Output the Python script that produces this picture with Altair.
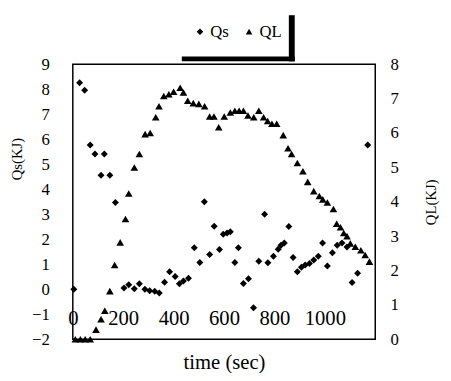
import altair as alt
import pandas as pd

# Qs series (left axis)
qs_time = [4, 27, 47, 69, 88, 112, 125, 147, 169, 203, 222, 244, 264, 286, 305,
           325, 343, 364, 384, 406, 423, 439, 459, 482, 504, 522, 543, 561, 582, 597,
           612, 625, 643, 657, 677, 697, 717, 738, 761, 774, 796, 815, 826, 839, 857,
           874, 891, 907, 922, 939, 956, 974, 991, 1010, 1030, 1049, 1068, 1088, 1108, 1130,
           1170]
qs_val = [0.0, 8.26, 7.96, 5.77, 5.41, 4.56, 5.41, 4.56, 3.47, 0.05, 0.18, 0.02, 0.22, 0.0, -0.06,
          -0.08, -0.15, 0.28, 0.7, 0.51, 0.22, 0.33, 0.44, 1.66, 1.07, 3.5, 1.39, 2.52, 1.59, 2.2,
          2.25, 2.3, 1.07, 1.66, 0.23, 0.42, -0.74, 1.12, 3.0, 1.06, 1.32, 1.6, 1.76, 1.85, 2.51,
          1.27, 0.7, 0.88, 0.97, 1.03, 1.17, 1.32, 1.85, 0.93, 1.46, 1.76, 1.85, 1.69, 0.27, 0.64,
          5.77]

# QL series (right axis)
ql_time = [10, 30, 49, 69, 92, 112, 127, 147, 166, 188, 209, 222, 244, 264, 287,
           307, 329, 342, 361, 381, 400, 426, 439, 456, 478, 500, 523, 543, 560, 579,
           601, 625, 643, 660, 677, 695, 718, 738, 757, 773, 790, 809, 835, 854, 868,
           891, 913, 932, 956, 978, 992, 1010, 1034, 1047, 1062, 1075, 1088, 1101, 1121, 1143,
           1160, 1177]
ql_val = [0, 0, 0, 0, 0.28, 0.58, 0.83, 1.4, 2.16, 2.82, 3.5, 4.24, 5.0, 5.39, 5.97,
          6.0, 6.46, 6.78, 7.08, 7.13, 7.2, 7.32, 7.18, 6.94, 6.87, 6.85, 6.78, 6.48, 6.48, 6.17,
          6.48, 6.6, 6.65, 6.65, 6.65, 6.51, 6.46, 6.65, 6.46, 6.35, 6.27, 6.27, 5.94, 5.56, 5.39,
          5.13, 4.89, 4.58, 4.31, 4.17, 4.07, 3.98, 3.79, 3.36, 3.26, 3.09, 3.0, 2.79, 2.69, 2.59,
          2.45, 2.26]

series_names = ["Qs", "QL"]
x_ticks = [0, 200, 400, 600, 800, 1000]
qs_ticks = list(range(-2, 10))
ql_ticks = list(range(0, 9))

FONT = "Liberation Serif"

qs_df = pd.DataFrame({"time": qs_time, "value": qs_val, "series": series_names[0]})
ql_df = pd.DataFrame({"time": ql_time, "value": ql_val, "series": series_names[1]})

shape_scale = alt.Scale(domain=series_names, range=["diamond", "triangle-up"])
legend = alt.Legend(
    title=None, orient="none", direction="horizontal", legendX=111, legendY=-52,
    padding=10,
    labelFont=FONT, labelFontSize=17, labelColor="black", labelOffset=2,
    columnPadding=12, symbolSize=45, symbolFillColor="black", symbolStrokeColor="black",
)

x_enc = alt.X(
    "time:Q",
    scale=alt.Scale(domain=[0, 1200], nice=False),
    axis=alt.Axis(
        values=x_ticks, format="d", title="time (sec)", domain=False, ticks=False, grid=False,
        labelPadding=-32, labelFlush=False, labelOverlap=False,
        labelFont=FONT, labelFontSize=21, labelColor="black",
        titleFont=FONT, titleFontSize=21, titleFontWeight="normal", titleColor="black",
        titleY=13,
    ),
)

qs_layer = alt.Chart(qs_df).mark_point(filled=True, color="black", size=50, opacity=1).encode(
    x=x_enc,
    y=alt.Y(
        "value:Q",
        scale=alt.Scale(domain=[-2, 9], nice=False, zero=False),
        axis=alt.Axis(
            values=qs_ticks, format="d", title="Qs(KJ)", orient="left", domain=False, ticks=False,
            grid=False, labelPadding=24, labelFont=FONT, labelFontSize=17, labelColor="black",
            titleFont=FONT, titleFontSize=15, titleFontWeight="normal", titleColor="black",
            titleX=-57, titleY=96, titleAngle=270, titleAlign="center", titleBaseline="middle",
        ),
    ),
    shape=alt.Shape("series:N", scale=shape_scale, legend=legend),
)

ql_layer = alt.Chart(ql_df).mark_point(filled=True, color="black", size=60, opacity=1).encode(
    x=x_enc,
    y=alt.Y(
        "value:Q",
        scale=alt.Scale(domain=[0, 8], nice=False, zero=False),
        axis=alt.Axis(
            values=ql_ticks, format="d", title="QL(KJ)", orient="right", domain=False, ticks=False,
            grid=False, labelPadding=15, labelFont=FONT, labelFontSize=17, labelColor="black",
            titleFont=FONT, titleFontSize=15, titleFontWeight="normal", titleColor="black",
            titleX=56, titleY=140, titleAngle=270, titleAlign="center", titleBaseline="middle",
        ),
    ),
    shape=alt.Shape("series:N", scale=shape_scale, legend=legend),
)

# legend drop shadow (decoration)
shadow_df = pd.DataFrame({"k": [0]})
shadow_bottom = alt.Chart(shadow_df).mark_rect(color="black").encode(
    x=alt.value(111), x2=alt.value(226), y=alt.value(-8), y2=alt.value(-3)
)
shadow_right = alt.Chart(shadow_df).mark_rect(color="black").encode(
    x=alt.value(220), x2=alt.value(226), y=alt.value(-50), y2=alt.value(-3)
)

chart = (
    alt.layer(qs_layer, ql_layer, shadow_bottom, shadow_right)
    .resolve_scale(y="independent")
    .properties(
        width=308, height=280,
        autosize=alt.AutoSizeParams(type="none"),
        padding={"left": 66, "top": 54, "right": 69, "bottom": 31},
        background="white",
    )
    .configure_view(stroke="black", strokeWidth=1.5)
)

chart.save("out.html", embed_options={"renderer": "svg", "actions": False})
